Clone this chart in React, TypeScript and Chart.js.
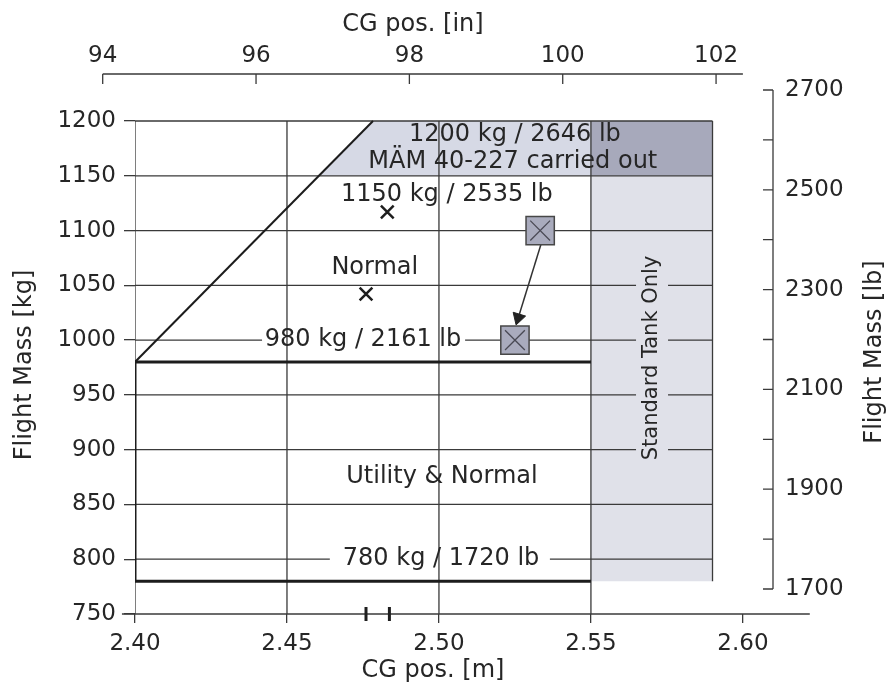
import React, { useEffect, useRef } from 'react';
import { Chart, registerables } from 'chart.js';

Chart.register(...registerables);

// ---------- axis ticks ----------
const M_TICKS = [2.4, 2.45, 2.5, 2.55, 2.6];
const KG_TICKS = [750, 800, 850, 900, 950, 1000, 1050, 1100, 1150, 1200];
const LB_TICKS = [1700, 1900, 2100, 2300, 2500, 2700];
const LB_ALL_TICKS = [1700, 1800, 1900, 2000, 2100, 2200, 2300, 2400, 2500, 2600, 2700];
const IN_TICKS = [94, 96, 98, 100, 102];

// ---------- axis ranges ----------
const M_RANGE = [2.4, 2.6099];
const KG_RANGE = [750, 1242.9];
const LB_RANGE = [1649.9, 2732.1];
const IN_RANGE = [94.4213, 102.7426];
const IN_AXIS_END = 102.35;
const M_AXIS_LINE = [2.3957, 2.622];
const TICK_M = 0.0033;
const TICK_KG = 9.1;

// ---------- grid ----------
const GRID_KG_FULL = [850, 900, 950, 1050, 1100, 1150, 1200];
const GRID_M = [2.4, 2.45, 2.5, 2.55];
const GRID_RIGHT_M = 2.59;
const GRID_BOTTOM_KG = 780;
const LINE_1000_SEGS = [[2.4, 2.4418], [2.5086, 2.59]];
const LINE_800_SEGS = [[2.4, 2.4641], [2.5365, 2.59]];

// ---------- envelope ----------
const ENVELOPE_M = [2.55, 2.4, 2.4, 2.55];
const ENVELOPE_KG = [980, 980, 780, 780];
const DIAGONAL_M = [2.4, 2.4783];
const DIAGONAL_KG = [980, 1200];

// ---------- shaded areas ----------
const TOP_BAND_M = [2.4605, 2.4783, 2.55];
const TOP_BAND_KG = [1150, 1200, 1200];
const TOP_BAND_BASE = 1150;
const CORNER_M = [2.55, 2.59];
const CORNER_KG = [1200, 1200];
const CORNER_BASE = 1150;
const TANK_M = [2.55, 2.59];
const TANK_KG = [1150, 1150];
const TANK_BASE = 780;

// ---------- points ----------
const CG_M = [2.483, 2.476];
const CG_KG = [1117, 1042];
const BOX_M = [2.5333, 2.525];
const BOX_KG = [1100, 1000];
const ARROW_M = [2.5339, 2.5261];
const ARROW_KG = [1090.5, 1020.4];
const AXIS_MARK_M = [2.476, 2.4837];
const AXIS_MARK_KG = [750, 750];

// ---------- annotations ----------
const LABELS = [
  { text: '1200 kg / 2646 lb', m: 2.525, kg: 1187.2 },
  { text: 'MÄM 40-227 carried out', m: 2.5243, kg: 1162.6 },
  { text: '1150 kg / 2535 lb', m: 2.5026, kg: 1132.5 },
  { text: 'Normal', m: 2.4789, kg: 1065.8 },
  { text: '980 kg / 2161 lb', m: 2.475, kg: 1000 },
  { text: 'Utility & Normal', m: 2.501, kg: 875.1 },
  { text: '780 kg / 1720 lb', m: 2.5007, kg: 800 },
];
const TANK_LABEL = { text: 'Standard Tank Only', m: 2.5701, kg: 983.7 };

// ---------- styles ----------
const FONT = "'DejaVu Sans', 'Liberation Sans', sans-serif";
const TEXT = '#262626';
const LINE = '#3a3a3a';
const BOLD = '#1c1c1c';
const TOP_BAND_COLOR = '#d6d9e5';
const CORNER_COLOR = '#a7a9bb';
const TANK_COLOR = '#e0e1e9';
const BOX_COLOR = '#a9abbd';

const zip = (xs: number[], ys: number[]) => xs.map((x, i) => ({ x, y: ys[i] }));
const segs = (list: number[][][]) => {
  const out: any[] = [];
  list.forEach(([a, b]) => {
    out.push({ x: a[0], y: a[1] }, { x: b[0], y: b[1] }, { x: null, y: null });
  });
  return out;
};

const textPlugin = {
  id: 'chartTexts',
  afterDatasetsDraw(chart: any) {
    const { ctx, chartArea, scales } = chart;
    const sx = scales.x;
    const sy = scales.y;
    const sin = scales.xin;
    ctx.save();
    ctx.fillStyle = TEXT;
    ctx.textAlign = 'center';
    ctx.textBaseline = 'middle';

    ctx.font = `23px ${FONT}`;
    IN_TICKS.forEach((v) => ctx.fillText(String(v), sin.getPixelForValue(v), chartArea.top - 18));

    ctx.font = `24px ${FONT}`;
    ctx.fillText('CG pos. [in]', 413, 25);
    ctx.fillText('CG pos. [m]', 433, 671);

    const rotated = (t: string, x: number, y: number) => {
      ctx.save();
      ctx.translate(x, y);
      ctx.rotate(-Math.PI / 2);
      ctx.fillText(t, 0, 0);
      ctx.restore();
    };
    rotated('Flight Mass [kg]', 25, 365);
    rotated('Flight Mass [lb]', 875, 352);

    ctx.font = `24px ${FONT}`;
    LABELS.forEach((l) => ctx.fillText(l.text, sx.getPixelForValue(l.m), sy.getPixelForValue(l.kg)));

    ctx.font = `21px ${FONT}`;
    const tx = sx.getPixelForValue(TANK_LABEL.m);
    const ty = sy.getPixelForValue(TANK_LABEL.kg);
    const tw = ctx.measureText(TANK_LABEL.text).width;
    ctx.fillStyle = TANK_COLOR;
    ctx.fillRect(tx - 16, ty - tw / 2 - 5, 32, tw + 10);
    ctx.fillStyle = TEXT;
    rotated(TANK_LABEL.text, tx, ty);
    ctx.restore();
  },
};

export default function App() {
  const ref = useRef<HTMLCanvasElement | null>(null);

  useEffect(() => {
    if (!ref.current) return;
    const tickFont = { family: FONT, size: 23 };
    const lineDs = (data: any[], extra: any = {}) => ({
      data,
      showLine: true,
      pointRadius: 0,
      pointHoverRadius: 0,
      borderColor: LINE,
      borderWidth: 1.3,
      fill: false,
      spanGaps: false,
      ...extra,
    });

    const hGrid = GRID_KG_FULL.map((kg) => [[M_RANGE[0], kg], [GRID_RIGHT_M, kg]]);
    const hSplit = [
      ...LINE_1000_SEGS.map(([a, b]) => [[a, 1000], [b, 1000]]),
      ...LINE_800_SEGS.map(([a, b]) => [[a, 800], [b, 800]]),
    ];
    const vGrid = [
      ...GRID_M.map((m) => [[m, KG_TICKS[0]], [m, 1200]]),
      [[GRID_RIGHT_M, GRID_BOTTOM_KG], [GRID_RIGHT_M, 1200]],
    ];
    const topAxis = [
      [[IN_TICKS[0], KG_RANGE[1]], [IN_AXIS_END, KG_RANGE[1]]],
      ...IN_TICKS.map((v) => [[v, KG_RANGE[1]], [v, KG_RANGE[1] - TICK_KG]]),
    ];
    const rightAxis = [
      [[M_RANGE[1], LB_ALL_TICKS[0]], [M_RANGE[1], LB_ALL_TICKS[LB_ALL_TICKS.length - 1]]],
      ...LB_ALL_TICKS.map((v) => [[M_RANGE[1] - TICK_M, v], [M_RANGE[1], v]]),
    ];

    const chart = new Chart(ref.current, {
      type: 'scatter',
      data: {
        datasets: [
          lineDs(zip(TOP_BAND_M, TOP_BAND_KG), { borderWidth: 0, fill: { value: TOP_BAND_BASE }, backgroundColor: TOP_BAND_COLOR, order: 20 }),
          lineDs(zip(CORNER_M, CORNER_KG), { borderWidth: 0, fill: { value: CORNER_BASE }, backgroundColor: CORNER_COLOR, order: 19 }),
          lineDs(zip(TANK_M, TANK_KG), { borderWidth: 0, fill: { value: TANK_BASE }, backgroundColor: TANK_COLOR, order: 18 }),
          lineDs(segs(hGrid), { order: 15 }),
          lineDs(segs(hSplit), { order: 15 }),
          lineDs(segs(vGrid), { order: 15 }),
          lineDs([{ x: M_AXIS_LINE[0], y: KG_TICKS[0] }, { x: M_AXIS_LINE[1], y: KG_TICKS[0] }], { order: 14, clip: false }),
          lineDs(segs(topAxis), { xAxisID: 'xin', order: 14, clip: false }),
          lineDs(segs(rightAxis), { yAxisID: 'ylb', order: 14, clip: false }),
          lineDs(zip(ENVELOPE_M, ENVELOPE_KG), { borderColor: BOLD, borderWidth: 3, order: 10 }),
          lineDs(zip(DIAGONAL_M, DIAGONAL_KG), { borderColor: BOLD, borderWidth: 2, order: 10 }),
          lineDs(zip(ARROW_M, ARROW_KG), { borderColor: '#333', borderWidth: 1.5, order: 9 }),
          {
            data: [{ x: ARROW_M[1], y: ARROW_KG[1] }],
            pointStyle: 'triangle',
            pointRadius: 7.5,
            rotation: 197,
            backgroundColor: '#222',
            borderColor: '#222',
            borderWidth: 1,
            order: 8,
          },
          {
            data: zip(BOX_M, BOX_KG),
            pointStyle: 'rect',
            pointRadius: 20,
            backgroundColor: BOX_COLOR,
            borderColor: '#474747',
            borderWidth: 1.5,
            order: 7,
          },
          {
            data: zip(BOX_M, BOX_KG),
            pointStyle: 'crossRot',
            pointRadius: 14,
            borderColor: '#4a4a55',
            borderWidth: 1.3,
            order: 6,
          },
          {
            data: zip(CG_M, CG_KG),
            pointStyle: 'crossRot',
            pointRadius: 9,
            borderColor: '#1e1e1e',
            borderWidth: 2.5,
            order: 5,
          },
          {
            data: zip(AXIS_MARK_M, AXIS_MARK_KG),
            pointStyle: 'line',
            pointRadius: 7,
            rotation: 90,
            borderColor: '#1e1e1e',
            borderWidth: 3,
            order: 5,
            clip: false,
          },
        ],
      },
      options: {
        animation: false,
        responsive: true,
        maintainAspectRatio: false,
        events: [],
        layout: { padding: { top: 74, left: 0, right: 0, bottom: 0 } },
        plugins: { legend: { display: false }, tooltip: { enabled: false } },
        scales: {
          x: {
            type: 'linear',
            position: 'bottom',
            min: M_RANGE[0],
            max: M_RANGE[1],
            afterBuildTicks: (s: any) => { s.ticks = M_TICKS.map((value) => ({ value })); },
            afterFit: (s: any) => { s.height = 71; },
            ticks: {
              font: tickFont,
              color: TEXT,
              padding: 7,
              maxRotation: 0,
              autoSkip: false,
              callback: (v: any) => Number(v).toFixed(2),
            },
            grid: { drawOnChartArea: false, tickLength: 9, color: LINE, lineWidth: 1.3 },
            border: { display: false },
          },
          xin: {
            type: 'linear',
            position: 'top',
            display: false,
            min: IN_RANGE[0],
            max: IN_RANGE[1],
          },
          y: {
            type: 'linear',
            position: 'left',
            min: KG_RANGE[0],
            max: KG_RANGE[1],
            afterBuildTicks: (s: any) => { s.ticks = KG_TICKS.map((value) => ({ value })); },
            afterFit: (s: any) => { s.width = 135; },
            ticks: { font: tickFont, color: TEXT, padding: 8, autoSkip: false, callback: (v: any) => String(v) },
            grid: { drawOnChartArea: false, tickLength: 11, color: LINE, lineWidth: 1.3 },
            border: { display: false },
          },
          ylb: {
            type: 'linear',
            position: 'right',
            min: LB_RANGE[0],
            max: LB_RANGE[1],
            afterBuildTicks: (s: any) => { s.ticks = LB_TICKS.map((value) => ({ value })); },
            afterFit: (s: any) => { s.width = 119; },
            ticks: { font: tickFont, color: TEXT, padding: 12, autoSkip: false, callback: (v: any) => String(v) },
            grid: { display: false, drawTicks: false },
            border: { display: false },
          },
        },
      },
      plugins: [textPlugin],
    } as any);
    return () => chart.destroy();
  }, []);

  return (
    <div style={{ position: 'absolute', left: 0, top: 0, width: 892, height: 685, background: '#fff' }}>
      <canvas ref={ref} />
    </div>
  );
}
